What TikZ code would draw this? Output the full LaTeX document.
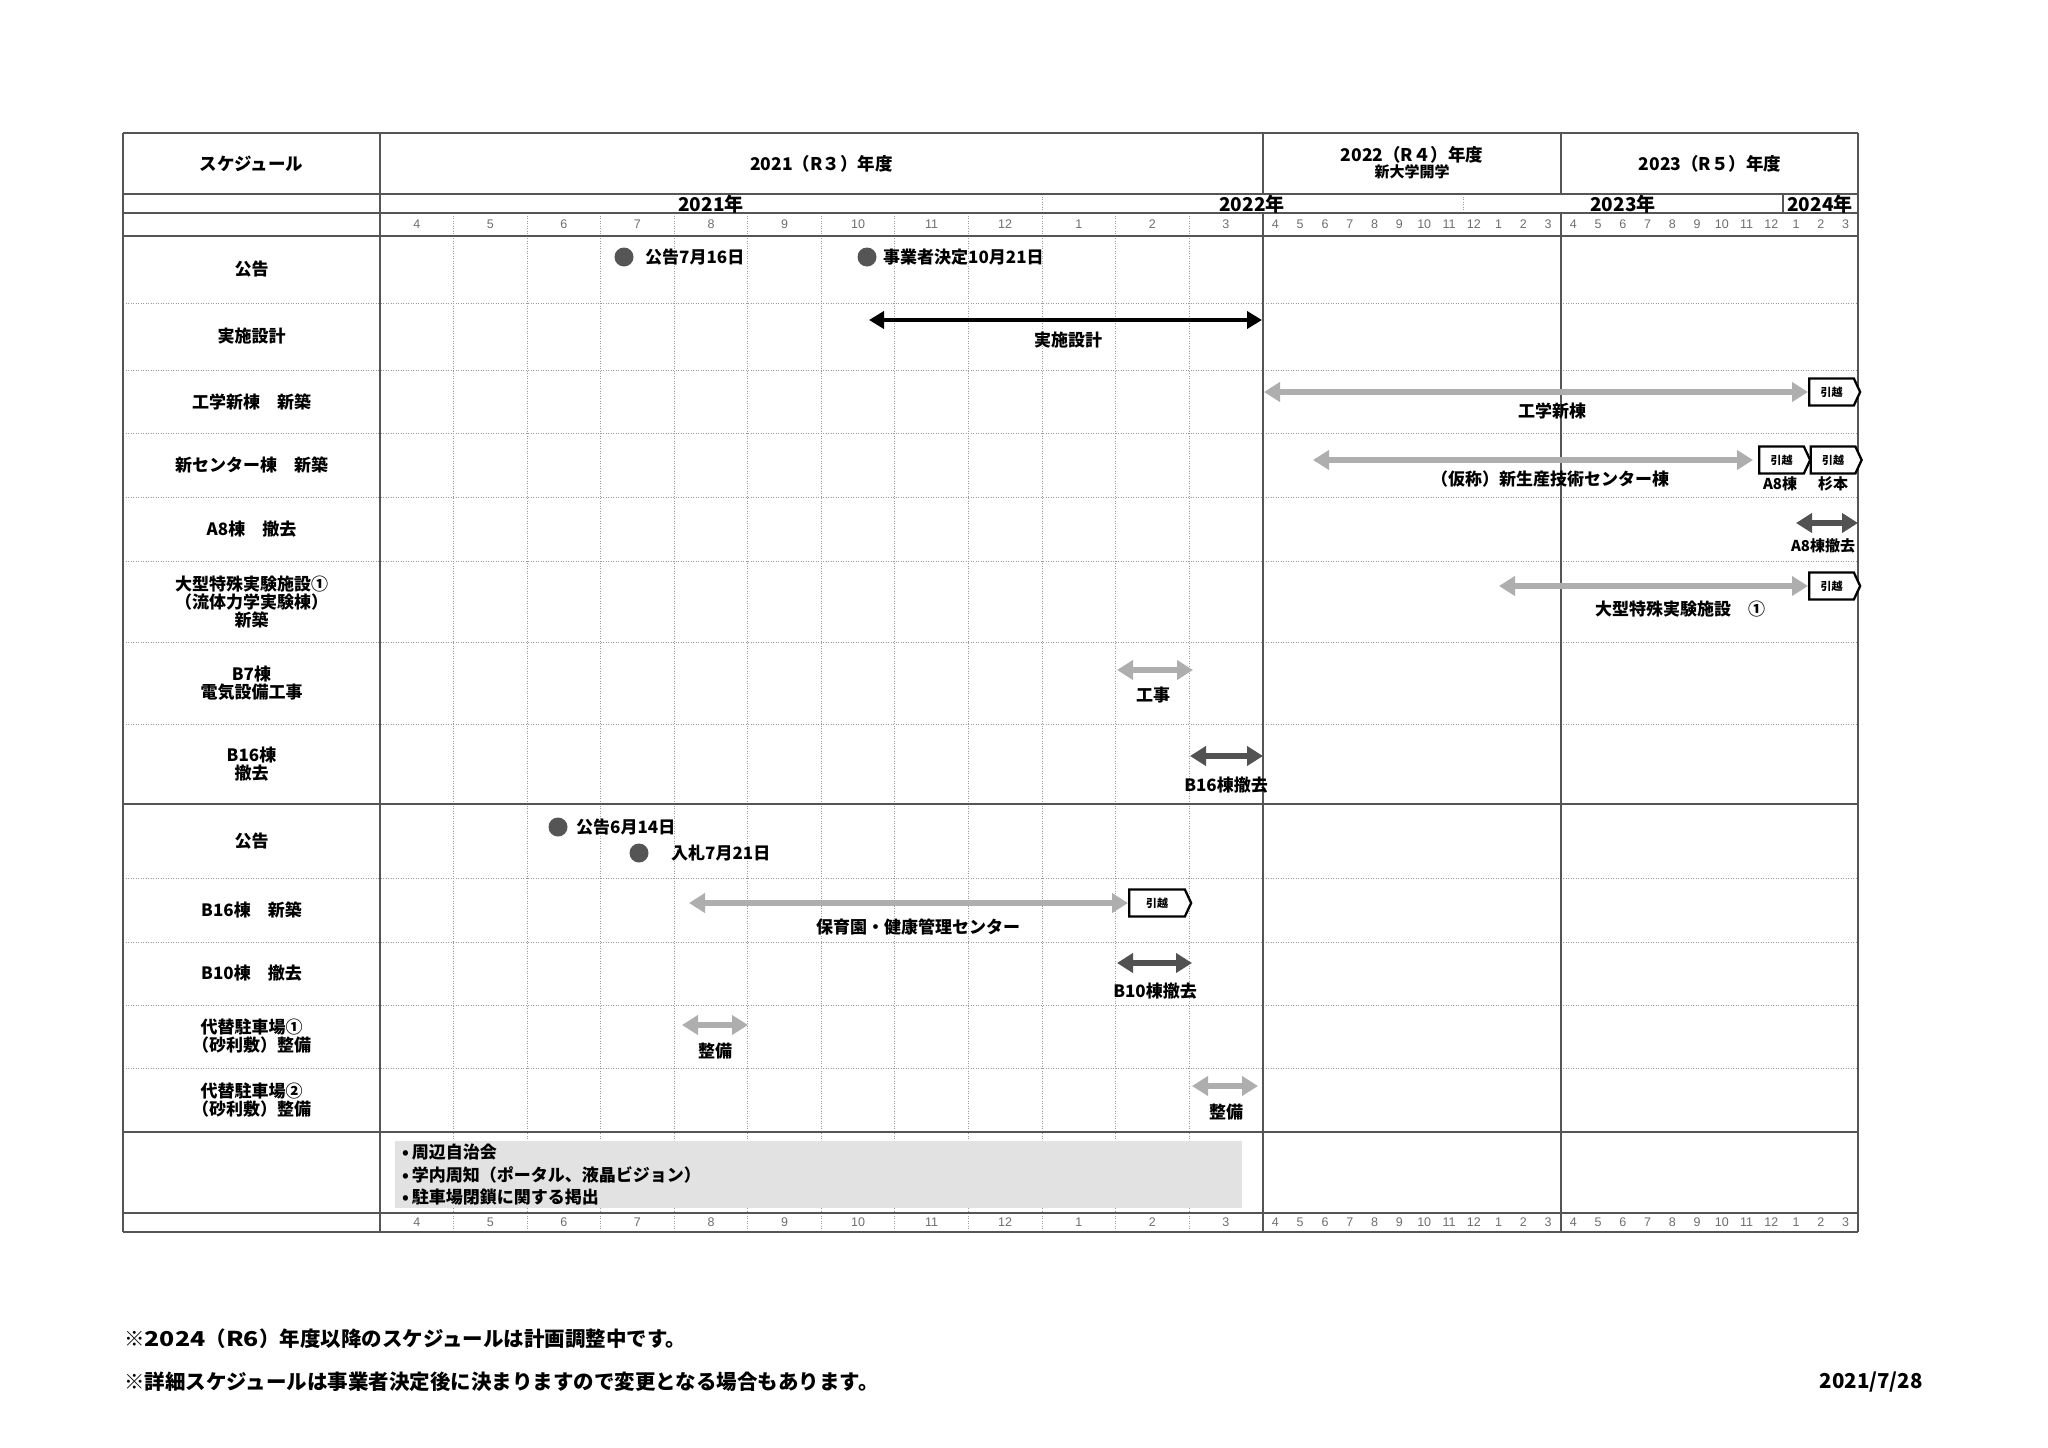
\documentclass[tikz,border=0pt]{standalone}
\usepackage{fontspec}
\setmainfont{Noto Sans CJK JP}
\newfontfamily\numfont{Liberation Sans}
\newfontfamily\widedig{Noto Sans CJK JP}[FakeStretch=1.22]
\usetikzlibrary{arrows.meta,shapes.symbols}
\definecolor{solidc}{HTML}{555555}
\definecolor{dotlc}{HTML}{9A9A9A}
\definecolor{lightar}{HTML}{AEAEAE}
\definecolor{darkar}{HTML}{525252}
\definecolor{dotc}{HTML}{555555}
\definecolor{notefill}{HTML}{E2E2E2}
\definecolor{monc}{HTML}{6E6E6E}
\tikzset{
  solidline/.style={draw=solidc, line width=1.3pt},
  dotline/.style={draw=dotlc, line width=0.9pt, dash pattern=on 1.2pt off 1.3pt},
  rowlbl/.style={font=\bfseries\fontsize{17}{18}\selectfont, align=center, inner sep=0pt},
  hdr/.style={font=\bfseries\fontsize{17.5}{19}\selectfont, inner sep=0pt},
  yearlbl/.style={font=\bfseries\fontsize{19}{19}\selectfont, inner sep=0pt},
  atxt/.style={font=\bfseries\fontsize{17}{19}\selectfont, inner sep=0pt},
  smalltxt/.style={font=\bfseries\fontsize{15}{16}\selectfont, inner sep=0pt},
  notetxt/.style={font=\bfseries\fontsize{17}{19}\selectfont, inner sep=0pt, anchor=west},
  foottxt/.style={font=\bfseries\fontsize{20.5}{22}\selectfont, inner sep=0pt},
  mon/.style={font=\numfont\fontsize{12.5}{13}\selectfont, text=monc, inner sep=0pt},
  evdot/.style={circle, fill=dotc, minimum size=19pt, inner sep=0pt},
  blackarrow/.style={draw=black, line width=4.5pt, {Triangle[length=15pt,width=17pt]}-{Triangle[length=15pt,width=17pt]}},
  lightarrow/.style={draw=lightar, line width=6pt, {Triangle[length=16pt,width=19pt]}-{Triangle[length=16pt,width=19pt]}},
  darkarrow/.style={draw=darkar, line width=6pt, {Triangle[length=16pt,width=19pt]}-{Triangle[length=16pt,width=19pt]}},
  movebox/.style={signal, signal to=east, signal pointer angle=130, draw=black, line width=2.3pt, fill=white, minimum width=51pt, minimum height=27pt, inner sep=0pt, font=\bfseries\fontsize{11}{11}\selectfont},
}
\begin{document}
\begin{tikzpicture}[x=1pt,y=-1pt]
\useasboundingbox (0,0) rectangle (2048,1448);
\fill[white] (0,0) rectangle (2048,1448);

% ---- dotted grid ----
\foreach \yy in {303,370,433,497,561,642,724,878,942,1005,1068}
  \draw[dotline] (123,\yy) -- (1858,\yy);
\foreach \i in {1,...,11}
  \draw[dotline] ({380+73.55*\i},213) -- ({380+73.55*\i},1232);
\draw[dotline] (1042,194) -- (1042,213);
\draw[dotline] (1463,194) -- (1463,213);

% ---- note box ----
\fill[notefill] (395,1141) rectangle (1242,1208);

% ---- solid grid ----
\foreach \yy in {133,194,213,236,1132,1213,1232}
  \draw[solidline] (123,\yy) -- (1858,\yy);
\draw[solidline, line width=2.2pt] (123,804) -- (1858,804);
\draw[solidline] (123,133) -- (123,1232);
\draw[solidline] (1858,133) -- (1858,1232);
\draw[solidline] (380,133) -- (380,1232);
\draw[solidline] (1263,133) -- (1263,194);
\draw[solidline] (1263,213) -- (1263,1232);
\draw[solidline] (1561,133) -- (1561,194);
\draw[solidline] (1561,213) -- (1561,1232);
\draw[solidline] (1783,194) -- (1783,213);

% ---- header ----
\node[hdr] (h0) at (251.5,163.5) {スケジュール};
\node[hdr] (h1) at (821.5,163.5) {2021（R３）年度};
\node[hdr] (h2) at (1412,155) {2022（R４）年度};
\node[font=\bfseries\fontsize{15}{16}\selectfont, inner sep=0pt] (h2b) at (1412,172) {新大学開学};
\node[hdr] (h3) at (1710,163.5) {2023（R５）年度};
\node[yearlbl] (y1) at (711,204) {2021年};
\node[yearlbl] (y2) at (1252,204) {2022年};
\node[yearlbl] (y3) at (1623,204) {2023年};
\node[yearlbl] (y4) at (1820,204) {2024年};

% ---- month numbers ----
\foreach \m [count=\i from 0] in {4,5,6,7,8,9,10,11,12,1,2,3} {
  \node[mon] (ma\i) at ({380+73.55*(\i+0.5)},224.5) {\m};
  \node[mon] (mb\i) at ({1263+24.8*(\i+0.5)},224.5) {\m};
  \node[mon] (mc\i) at ({1561+24.75*(\i+0.5)},224.5) {\m};
  \node[mon] (md\i) at ({380+73.55*(\i+0.5)},1222.5) {\m};
  \node[mon] (me\i) at ({1263+24.8*(\i+0.5)},1222.5) {\m};
  \node[mon] (mf\i) at ({1561+24.75*(\i+0.5)},1222.5) {\m};
}

% ---- row labels ----
\node[rowlbl] (r1) at (251.5,269.5) {公告};
\node[rowlbl] (r2) at (251.5,336.5) {実施設計};
\node[rowlbl] (r3) at (251.5,401.5) {工学新棟　新築};
\node[rowlbl] (r4) at (251.5,465) {新センター棟　新築};
\node[rowlbl] (r5) at (251.5,529) {A8棟　撤去};
\node[rowlbl] (r6) at (251.5,602) {大型特殊実験施設①\\（流体力学実験棟）\\新築};
\node[rowlbl] (r7) at (251.5,683) {B7棟\\電気設備工事};
\node[rowlbl] (r8) at (251.5,764) {B16棟\\撤去};
\node[rowlbl] (r9) at (251.5,841) {公告};
\node[rowlbl] (r10) at (251.5,910) {B16棟　新築};
\node[rowlbl] (r11) at (251.5,973.5) {B10棟　撤去};
\node[rowlbl] (r12) at (251.5,1036.5) {代替駐車場①\\（砂利敷）整備};
\node[rowlbl] (r13) at (251.5,1100) {代替駐車場②\\（砂利敷）整備};

% ---- events ----
\node[evdot] (d1) at (624,257) {};
\node[atxt, anchor=west] (d1t) at (645,257) {公告7月16日};
\node[evdot] (d2) at (867,257) {};
\node[atxt, anchor=west] (d2t) at (883,257) {事業者決定10月21日};
\node[evdot] (d3) at (558,827) {};
\node[atxt, anchor=west] (d3t) at (576,827) {公告6月14日};
\node[evdot] (d4) at (639,853) {};
\node[atxt, anchor=west] (d4t) at (671,853) {入札7月21日};

% ---- 実施設計 ----
\coordinate (js1) at (869,320);
\coordinate (js2) at (1262,320);
\draw[blackarrow] (js1) -- (js2);
\node[atxt] (jst) at (1068,340) {実施設計};

% ---- 工学新棟 ----
\node[movebox] (kb) at (1831.5,392) {引越};
\coordinate (k1) at (1264,392);
\draw[lightarrow] (k1) -- (kb.west);
\node[atxt] (kt) at (1552,411) {工学新棟};

% ---- 新センター棟 ----
\node[movebox] (cb1) at (1781.5,460) {引越};
\node[movebox] (cb2) at (1833,460) {引越};
\coordinate (c1) at (1313,460);
\draw[lightarrow] (c1) -- ([xshift=-5pt]cb1.west);
\node[atxt] (ct) at (1550,479) {（仮称）新生産技術センター棟};
\node[smalltxt] (cb1t) at (1780,484) {A8棟};
\node[smalltxt] (cb2t) at (1833,484) {杉本};

% ---- A8棟撤去 ----
\coordinate (a1) at (1796,523);
\coordinate (a2) at (1858,523);
\draw[darkarrow] (a1) -- (a2);
\node[smalltxt] (at) at (1823,546) {A8棟撤去};

% ---- 大型特殊実験施設 ----
\node[movebox] (ob) at (1831.5,586) {引越};
\coordinate (o1) at (1499,586);
\draw[lightarrow] (o1) -- (ob.west);
\node[atxt] (ot) at (1680,609) {大型特殊実験施設　①};

% ---- B7 ----
\coordinate (b71) at (1117,670);
\coordinate (b72) at (1193,670);
\draw[lightarrow] (b71) -- (b72);
\node[atxt] (b7t) at (1153,695) {工事};

% ---- B16撤去 ----
\coordinate (b161) at (1190,756);
\coordinate (b162) at (1263,756);
\draw[darkarrow] (b161) -- (b162);
\node[atxt] (b16t) at (1226,785) {B16棟撤去};

% ---- B16新築 ----
\node[movebox, minimum width=62pt] (nb) at (1157,903) {引越};
\coordinate (n1) at (689,903);
\draw[lightarrow] (n1) -- (nb.west);
\node[atxt] (nt) at (918,927) {保育園・健康管理センター};

% ---- B10撤去 ----
\coordinate (b101) at (1117,963);
\coordinate (b102) at (1192,963);
\draw[darkarrow] (b101) -- (b102);
\node[atxt] (b10t) at (1155,991) {B10棟撤去};

% ---- 代替駐車場 ----
\coordinate (p11) at (682,1025);
\coordinate (p12) at (748,1025);
\draw[lightarrow] (p11) -- (p12);
\node[atxt] (p1t) at (715,1051) {整備};
\coordinate (p21) at (1192,1086);
\coordinate (p22) at (1258,1086);
\draw[lightarrow] (p21) -- (p22);
\node[atxt] (p2t) at (1226,1112) {整備};

% ---- notes ----
\node[notetxt] (nt1) at (402,1152) {•\,周辺自治会};
\node[notetxt] (nt2) at (402,1174.5) {•\,学内周知（ポータル、液晶ビジョン）};
\node[notetxt] (nt3) at (402,1197) {•\,駐車場閉鎖に関する掲出};

% ---- footer ----
\node[foottxt, anchor=west] (f1) at (124,1339) {※{\widedig\bfseries 2024}（{\widedig\bfseries R6}）年度以降のスケジュールは計画調整中です。};
\node[foottxt, anchor=west] (f2) at (124,1382) {※詳細スケジュールは事業者決定後に決まりますので変更となる場合もあります。};
\node[foottxt, anchor=east] (f3) at (1923,1382) {2021/7/28};
\end{tikzpicture}
\end{document}
